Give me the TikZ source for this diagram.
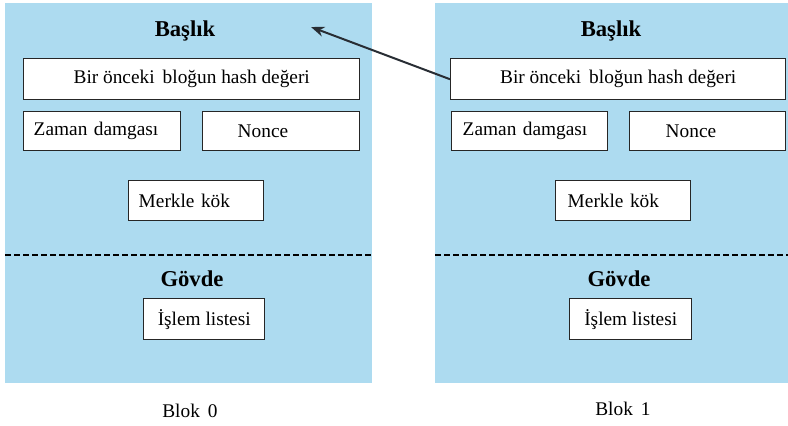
\documentclass[tikz,border=0pt]{standalone}
\usepackage{fontspec}
\setmainfont{Liberation Serif}
\usetikzlibrary{arrows.meta, positioning}
\definecolor{blokcolor}{RGB}{173,219,240}
\definecolor{linkcolor}{RGB}{40,45,52}
\tikzset{
  blok/.style={rectangle, fill=blokcolor, anchor=north west, inner sep=0pt, minimum height=285pt},
  field/.style={rectangle, draw=black!85, line width=1.1pt, fill=white, anchor=north west,
    inner sep=0pt, font=\fontsize{14.5}{17}\selectfont},
  lfield/.style={field, align=left, inner xsep=#1},
  heading/.style={anchor=base, font=\bfseries\fontsize{17}{20}\selectfont},
  caption/.style={anchor=base, font=\fontsize{14.5}{17}\selectfont},
  divider/.style={line width=1.1pt, dash pattern=on 4.5pt off 2.25pt},
  link/.style={-{Stealth[length=10pt, width=7.5pt]}, line width=1.5pt, draw=linkcolor}
}
\begin{document}
\begin{tikzpicture}[x=0.75pt, y=-0.75pt]
  \useasboundingbox (0,0) rectangle (788,425);

  % Blok 0
  \node[blok, minimum width=275.25pt] (blok0) at (5,3) {};
  \node[heading] (baslik0) at (185,36) {Başlık};
  \node[field, minimum width=252pt, minimum height=30.75pt] (hash0) at (23,58) {Bir önceki\, bloğun hash değeri};
  \node[lfield=7.5pt, text width=102.75pt, minimum height=29.25pt] (zaman0) at (23,111) {Zaman damgası};
  \node[lfield=26.25pt, text width=65.25pt, minimum height=29.25pt] (nonce0) at (202,111) {Nonce};
  \node[lfield=7.5pt, text width=86.25pt, minimum height=30pt] (merkle0) at (128,180) {Merkle kök};
  \draw[divider] (blok0.west |- 0,255) -- (blok0.east |- 0,255);
  \node[heading] (govde0) at (192,286) {Gövde};
  \node[field, minimum width=90.75pt, minimum height=30.75pt] (islem0) at (143,298) {İşlem listesi};
  \node[caption] (ad0) at (190,417) {Blok\, 0};

  % Blok 1
  \node[blok, minimum width=264.75pt] (blok1) at (435,3) {};
  \node[heading] (baslik1) at (611,36) {Başlık};
  \node[field, minimum width=251.25pt, minimum height=30.75pt] (hash1) at (450,58) {Bir önceki\, bloğun hash değeri};
  \node[lfield=8.25pt, text width=100.5pt, minimum height=29.25pt] (zaman1) at (451,111) {Zaman damgası};
  \node[lfield=27pt, text width=63pt, minimum height=29.25pt] (nonce1) at (629,111) {Nonce};
  \node[lfield=9pt, text width=83.25pt, minimum height=30pt] (merkle1) at (555,180) {Merkle kök};
  \draw[divider] (blok1.west |- 0,255) -- (blok1.east |- 0,255);
  \node[heading] (govde1) at (619,286) {Gövde};
  \node[field, minimum width=91.5pt, minimum height=30.75pt] (islem1) at (569,298) {İşlem listesi};
  \node[caption] (ad1) at (623,415) {Blok\, 1};

  % onceki blogu gosteren ok
  \coordinate (onceki) at (311,27);
  \draw[link] (hash1.west) -- (onceki);
\end{tikzpicture}
\end{document}
